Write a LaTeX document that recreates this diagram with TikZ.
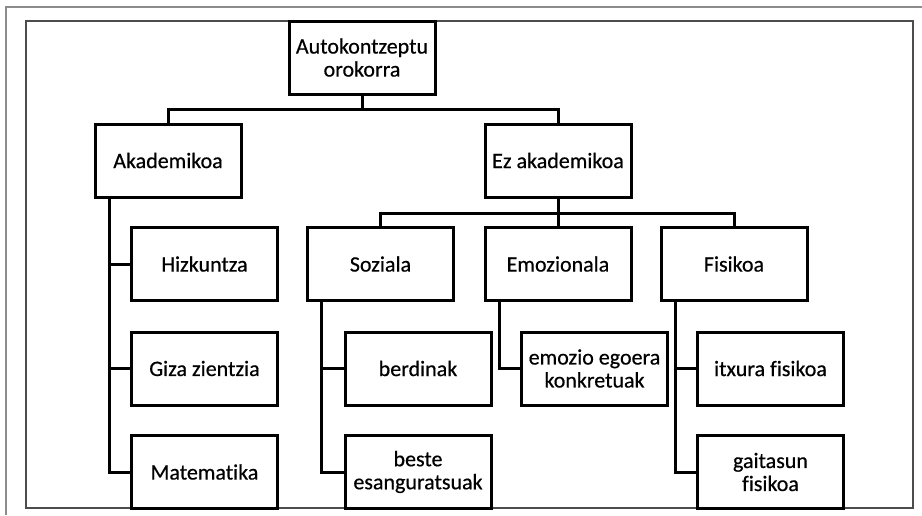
\documentclass[tikz,border=0pt]{standalone}
\usepackage{fontspec}
\setmainfont{Carlito}[Ligatures=NoCommon,FakeBold=0.5]
\usetikzlibrary{calc}

\begin{document}
\begin{tikzpicture}[x=1pt,y=-1pt,
    kutxa/.style={draw,line width=3pt,minimum width=146pt,minimum height=73pt,
        inner sep=1pt,align=center,font=\fontsize{22}{23}\selectfont},
    lotura/.style={line width=3pt}]
       \useasboundingbox(0,0)rectangle(922,515);%画像の大きさ
       \draw[line width=1.5pt,gray!90](6,515)--(6,7)--(922,7);%外枠
       \draw[line width=1.5pt,black!70](26,21)rectangle(913,508);%内枠

       \node[kutxa](root)at(362,57.5){Autokontzeptu\\orokorra};%根
       \node[kutxa](aka)at(168,160.5){Akademikoa};
       \node[kutxa](ez)at(558,160.5){Ez akademikoa};

       \node[kutxa](hiz)at(204.5,264){Hizkuntza};
       \node[kutxa](giza)at(204.5,368.5){Giza zientzia};
       \node[kutxa](mat)at(204.5,472){Matematika};

       \node[kutxa](soz)at(380.5,264){Soziala};
       \node[kutxa](emo)at(558,264){Emozionala};
       \node[kutxa](fis)at(734,264){Fisikoa};

       \node[kutxa](ber)at(418,368.5){berdinak};
       \node[kutxa](bes)at(418,472){beste\\esanguratsuak};
       \node[kutxa](ego)at(594.5,368.5){emozio egoera\\konkretuak};
       \node[kutxa](itx)at(770.5,368.5){itxura fisikoa};
       \node[kutxa](gai)at(770.5,472){gaitasun\\fisikoa};

       \foreach \n in{aka,ez}
           \draw[lotura](root.south)--++(0,14)-|(\n.north);%1段目
       \foreach \n in{soz,emo,fis}
           \draw[lotura](ez.south)--++(0,15)-|(\n.north);%2段目

       \foreach \n in{hiz,giza,mat}
           \draw[lotura]([xshift=16pt]aka.south west)|-(\n.west);%Akademikoa の枝
       \foreach \n in{ber,bes}
           \draw[lotura]([xshift=15pt]soz.south west)|-(\n.west);%Soziala の枝
       \draw[lotura]([xshift=16pt]emo.south west)|-(ego.west);%Emozionala の枝
       \foreach \n in{itx,gai}
           \draw[lotura]([xshift=16pt]fis.south west)|-(\n.west);%Fisikoa の枝

      \end{tikzpicture}
\end{document}
